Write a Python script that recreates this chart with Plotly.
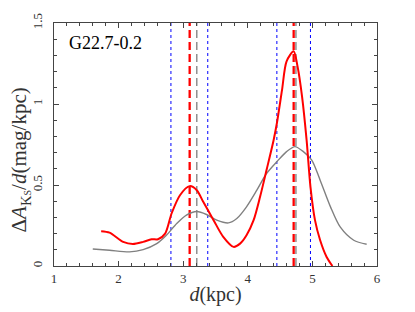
import plotly.graph_objects as go

# Red extinction-density curve
red_x = [1.73, 1.86, 2.07, 2.22, 2.38, 2.51, 2.61, 2.72, 2.82, 2.95, 3.10, 3.21, 3.31, 3.47, 3.62, 3.78,
         3.88, 3.98, 4.09, 4.19, 4.29, 4.40, 4.45, 4.53, 4.60, 4.71, 4.77, 4.84, 4.91, 4.97, 5.04, 5.12, 5.22, 5.31]
red_y = [0.215, 0.206, 0.149, 0.136, 0.149, 0.165, 0.165, 0.20, 0.324, 0.437, 0.493, 0.468, 0.396, 0.283, 0.18, 0.118,
         0.138, 0.19, 0.283, 0.427, 0.592, 0.778, 0.881, 1.087, 1.263, 1.325, 1.232, 1.046, 0.778, 0.489, 0.283, 0.159, 0.056, 0.0]

# Gray curve
gray_x = [1.60, 1.86, 2.17, 2.38, 2.59, 2.74, 2.90, 3.05, 3.21, 3.36, 3.52, 3.70, 3.83, 3.98, 4.14, 4.29,
          4.45, 4.60, 4.73, 4.86, 4.99, 5.12, 5.28, 5.43, 5.64, 5.84]
gray_y = [0.105, 0.097, 0.087, 0.101, 0.138, 0.19, 0.262, 0.314, 0.336, 0.318, 0.283, 0.266, 0.293, 0.365, 0.468, 0.571,
          0.644, 0.706, 0.737, 0.706, 0.654, 0.530, 0.365, 0.241, 0.159, 0.134]

red_peaks = [3.10, 4.71]
gray_peaks = [3.21, 4.745]
blue_bounds = [2.81, 3.38, 4.45, 4.97]

x_ticks = [1, 2, 3, 4, 5, 6]
y_ticks = [0, 0.5, 1, 1.5]
y_ticklabels = ["0", "0.5", "1", "1.5"]

label = "G22.7-0.2"

FONT = "Liberation Serif"

fig = go.Figure()

for b in blue_bounds:
    fig.add_trace(go.Scatter(x=[b, b], y=[0, 1.5], mode="lines",
                             line=dict(color="#0000ff", width=1, dash="dot"),
                             showlegend=False, hoverinfo="skip"))
for r in red_peaks:
    fig.add_trace(go.Scatter(x=[r, r], y=[0, 1.5], mode="lines",
                             line=dict(color="#ff0000", width=2.3, dash="8px,4px"),
                             showlegend=False, hoverinfo="skip"))
for g in gray_peaks:
    fig.add_trace(go.Scatter(x=[g, g], y=[0, 1.5], mode="lines",
                             line=dict(color="#909090", width=1.5, dash="8px,4px"),
                             showlegend=False, hoverinfo="skip"))

fig.add_trace(go.Scatter(x=gray_x, y=gray_y, mode="lines",
                         line=dict(color="#808080", width=1.4, shape="spline", smoothing=0.8),
                         showlegend=False))
fig.add_trace(go.Scatter(x=red_x, y=red_y, mode="lines",
                         line=dict(color="#ff0000", width=2, shape="spline", smoothing=0.8),
                         showlegend=False))

fig.add_annotation(x=0.04, y=0.918, xref="paper", yref="paper", text=label, showarrow=False,
                   xanchor="left", yanchor="middle", font=dict(family=FONT, size=18, color="black"))

fig.add_annotation(x=-0.104, y=0.436, xref="paper", yref="paper", showarrow=False, textangle=-90,
                   xanchor="center", yanchor="middle",
                   text="Δ<i>A</i><sub>K<span style='font-size:10px'>S</span></sub>/<i>d</i>(mag/kpc)",
                   font=dict(family=FONT, size=21, color="#333333"))

axis_common = dict(showgrid=False, zeroline=False, showline=True, linecolor="#444444", linewidth=1,
                   mirror="allticks", ticks="inside", tickcolor="#444444", ticklen=5, automargin=False,
                   tickfont=dict(family=FONT, size=13, color="#333333"))

fig.update_xaxes(range=[1, 6], tickvals=x_ticks, **axis_common,
                 minor=dict(dtick=0.2, ticks="inside", ticklen=3, tickcolor="#444444"),
                 title=dict(text="<i>d</i>(kpc)", font=dict(family=FONT, size=20, color="#333333"), standoff=2))
fig.update_yaxes(range=[0, 1.5], tickvals=y_ticks, ticktext=y_ticklabels, tickangle=-90, **axis_common,
                 ticklabelstandoff=6,
                 minor=dict(dtick=0.1, ticks="inside", ticklen=3, tickcolor="#444444"))

fig.update_layout(width=415, height=312, margin=dict(l=46, r=46, t=15, b=54),
                  paper_bgcolor="white", plot_bgcolor="white")

fig.write_html("out.html")
